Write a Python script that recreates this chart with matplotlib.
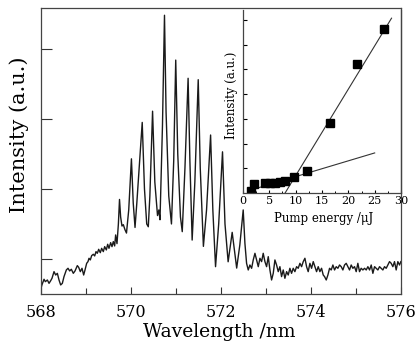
import matplotlib
matplotlib.use("Agg")
import matplotlib.pyplot as plt
import numpy as np

plt.rcParams['font.family'] = ['DejaVu Serif']

# ---- main spectrum (wavelength nm, intensity a.u.) ----
wavelength = [
    568.0, 568.02, 568.067, 568.096, 568.141, 568.178, 568.215, 568.244, 568.289, 568.326,
    568.363, 568.4, 568.437, 568.474, 568.511, 568.563, 568.6, 568.637, 568.674, 568.718,
    568.756, 568.807, 568.837, 568.874, 568.911, 568.948, 568.978, 569.015, 569.044, 569.067,
    569.096, 569.126, 569.163, 569.193, 569.222, 569.252, 569.282, 569.318, 569.348, 569.385,
    569.415, 569.452, 569.482, 569.511, 569.548, 569.578, 569.607, 569.637, 569.659, 569.689,
    569.72, 569.745, 569.77, 569.80, 569.83, 569.865, 569.90, 569.95, 570.01, 570.05,
    570.09, 570.13, 570.25, 570.30, 570.35, 570.385, 570.42, 570.48, 570.53, 570.59,
    570.62, 570.645, 570.70, 570.745, 570.78, 570.84, 570.90, 570.95, 570.995, 571.04,
    571.10, 571.14, 571.20, 571.27, 571.31, 571.36, 571.42, 571.495, 571.54, 571.61,
    571.68, 571.77, 571.82, 571.88, 571.95, 572.035, 572.09, 572.16, 572.25, 572.35,
    572.42, 572.495, 572.533, 572.57, 572.607, 572.644, 572.682, 572.718, 572.756, 572.793,
    572.83, 572.867, 572.904, 572.94, 572.978, 573.015, 573.052, 573.089, 573.126, 573.163,
    573.2, 573.237, 573.274, 573.311, 573.348, 573.385, 573.422, 573.46, 573.496, 573.533,
    573.57, 573.607, 573.644, 573.682, 573.718, 573.756, 573.793, 573.83, 573.867, 573.904,
    573.94, 573.978, 574.015, 574.052, 574.089, 574.126, 574.163, 574.2, 574.237, 574.274,
    574.304, 574.341, 574.378, 574.415, 574.452, 574.489, 574.526, 574.563, 574.6, 574.637,
    574.674, 574.711, 574.748, 574.785, 574.822, 574.859, 574.896, 574.933, 574.97, 575.007,
    575.044, 575.081, 575.118, 575.156, 575.193, 575.23, 575.267, 575.304, 575.341, 575.378,
    575.415, 575.452, 575.489, 575.526, 575.563, 575.6, 575.637, 575.674, 575.711, 575.748,
    575.785, 575.822, 575.859, 575.896, 575.933, 575.97, 576.0,
]
intensity = [
    0.081, 0.129, 0.21, 0.176, 0.2, 0.152, 0.19, 0.224, 0.319, 0.271,
    0.295, 0.2, 0.129, 0.152, 0.248, 0.343, 0.367, 0.329, 0.353, 0.295,
    0.329, 0.405, 0.381, 0.319, 0.367, 0.271, 0.343, 0.438, 0.462, 0.51,
    0.486, 0.548, 0.567, 0.543, 0.605, 0.581, 0.638, 0.59, 0.652, 0.605,
    0.676, 0.629, 0.71, 0.652, 0.733, 0.676, 0.748, 0.686, 0.843, 0.719,
    1.0, 1.35, 1.1, 0.97, 0.99, 0.92, 0.87, 1.2, 1.93, 1.3,
    0.95, 1.3, 2.45, 1.5, 1.0, 0.96, 1.4, 2.61, 1.6, 1.12,
    1.2, 1.06, 2.4, 3.98, 2.6, 1.4, 1.0, 1.9, 3.34, 2.0,
    1.1, 0.89, 1.8, 3.08, 1.9, 0.77, 1.6, 3.06, 1.8, 0.68,
    1.2, 2.27, 1.2, 0.39, 1.0, 2.03, 1.0, 0.46, 0.88, 0.37,
    0.7, 1.2, 0.724, 0.438, 0.343, 0.414, 0.367, 0.486, 0.581, 0.486,
    0.39, 0.51, 0.462, 0.581, 0.462, 0.39, 0.533, 0.343, 0.2, 0.295,
    0.486, 0.414, 0.319, 0.39, 0.248, 0.343, 0.224, 0.319, 0.271, 0.367,
    0.295, 0.367, 0.319, 0.39, 0.367, 0.438, 0.39, 0.462, 0.51, 0.39,
    0.319, 0.438, 0.367, 0.462, 0.39, 0.319, 0.39, 0.319, 0.367, 0.271,
    0.248, 0.2, 0.271, 0.367, 0.343, 0.414, 0.343, 0.39, 0.367, 0.414,
    0.39, 0.343, 0.414, 0.438, 0.39, 0.343, 0.414, 0.367, 0.39, 0.319,
    0.438, 0.319, 0.367, 0.343, 0.367, 0.343, 0.39, 0.343, 0.414, 0.295,
    0.39, 0.367, 0.343, 0.39, 0.367, 0.343, 0.39, 0.367, 0.414, 0.462,
    0.438, 0.39, 0.462, 0.343, 0.462, 0.414, 0.462,
]
x_ticks = [568, 570, 572, 574, 576]
y_ticks = [0.5, 1.5, 2.5, 3.5]

# ---- inset: threshold data ----
pump_energy = [1.5, 2.1, 4.2, 5.1, 6.0, 7.0, 8.0, 9.7, 12.2, 16.6, 21.6, 26.8]
inset_intensity = [0.09, 0.36, 0.42, 0.42, 0.42, 0.43, 0.47, 0.66, 0.9, 2.82, 5.22, 6.63]
fit_above_E = [8.0, 28.2]
fit_above_I = [0.0, 7.07]
fit_below_E = [1.2, 25.0]
fit_below_I = [0.1, 1.62]
inset_x_ticks = [0, 5, 10, 15, 20, 25, 30]
inset_x_minor = [2.5, 7.5, 12.5, 17.5, 22.5, 27.5]
inset_y_ticks = [1, 2, 3, 4, 5, 6, 7]

fig = plt.figure(figsize=(4.16, 3.42), dpi=100)
ax = fig.add_axes([0.0986, 0.1404, 0.865, 0.8375])
ax.plot(wavelength, intensity, color='#1a1a1a', lw=1.0)
ax.set_xlim(568, 576)
ax.set_ylim(0, 4.09)
ax.set_xticks(x_ticks)
ax.set_xticks([569, 571, 573, 575], minor=True)
ax.set_yticks(y_ticks)
ax.set_yticklabels([])
ax.tick_params(axis='x', which='major', direction='in', length=5, width=0.8,
               labelsize=11.5, pad=7, top=False, colors='#333333', labelcolor='black')
ax.tick_params(axis='x', which='minor', direction='in', length=4, width=0.8, top=False, colors='#333333')
ax.tick_params(axis='y', which='major', direction='in', length=8, width=0.8, right=False, colors='#333333')
for s in ax.spines.values():
    s.set_linewidth(0.9)
    s.set_color('#444444')
ax.set_xlabel('Wavelength /nm', fontsize=13.5)
ax.xaxis.set_label_coords(0.496, -0.150)
ax.xaxis.label.set_va('baseline')
ax.set_ylabel('Intensity (a.u.)', fontsize=15)
ax.yaxis.set_label_coords(-0.061, 0.556)
ax.yaxis.label.set_va('center')

ins = fig.add_axes([0.584, 0.4357, 0.380, 0.535])
ins.patch.set_alpha(0)
ins.plot(fit_above_E, fit_above_I, color='#333333', lw=0.8)
ins.plot(fit_below_E, fit_below_I, color='#333333', lw=0.8)
ins.plot(pump_energy, inset_intensity, 's', color='black', ms=5.5)
ins.set_xlim(0, 30)
ins.set_ylim(0, 7.4)
ins.set_xticks(inset_x_ticks)
ins.set_xticks(inset_x_minor, minor=True)
ins.set_yticks(inset_y_ticks)
ins.set_yticklabels([])
ins.spines['top'].set_visible(False)
for s in ins.spines.values():
    s.set_linewidth(0.9)
    s.set_color('#444444')
ins.tick_params(axis='x', which='major', direction='in', length=2.5, width=0.8,
                labelsize=8, pad=2.5, top=False)
ins.tick_params(axis='x', which='minor', direction='in', length=1.5, width=0.7, top=False)
ins.tick_params(axis='y', direction='in', length=3, width=0.8, right=False)
ins.set_xlabel('Pump energy /μJ', fontsize=8.5)
ins.xaxis.set_label_coords(0.51, -0.142)
ins.xaxis.label.set_va('center')
ins.set_ylabel('Intensity (a.u.)', fontsize=8.5)
ins.yaxis.set_label_coords(-0.07, 0.533)
ins.yaxis.label.set_va('center')

fig.savefig('out.png', dpi=100)
